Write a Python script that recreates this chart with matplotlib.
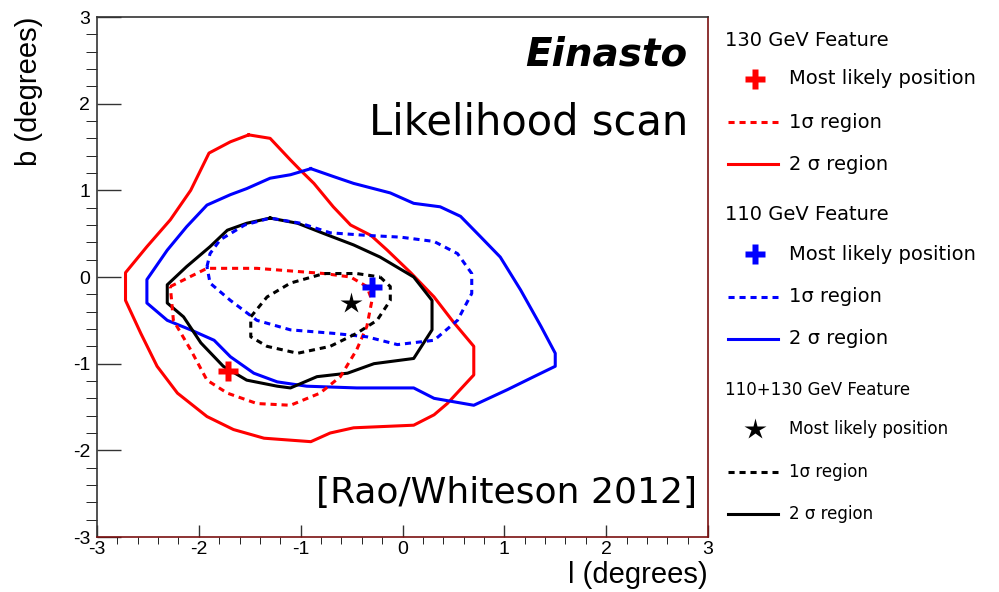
import matplotlib

matplotlib.use('Agg')
import matplotlib.pyplot as plt
from matplotlib.ticker import MultipleLocator

plt.rcParams['font.family'] = ['DejaVu Sans']
plt.rcParams['axes.unicode_minus'] = False

# 130 GeV feature contours (l, b in degrees)
red2_l = [-1.51, -1.30, -1.10, -1.00, -0.87, -0.68, -0.51, -0.31, -0.15, 0.08, 0.31, 0.50, 0.70, 0.70,
          0.44, 0.31, 0.11, -0.48, -0.71, -0.90, -1.36, -1.66, -1.92, -2.21, -2.41, -2.57, -2.72, -2.72,
          -2.51, -2.28, -2.08, -1.90, -1.69, -1.51]
red2_b = [1.64, 1.60, 1.35, 1.23, 1.08, 0.81, 0.60, 0.48, 0.31, 0.05, -0.23, -0.52, -0.80, -1.13,
          -1.46, -1.59, -1.71, -1.74, -1.80, -1.90, -1.86, -1.76, -1.61, -1.34, -1.03, -0.65, -0.27, 0.05,
          0.35, 0.66, 1.00, 1.43, 1.56, 1.64]
red1_l = [-2.28, -1.92, -1.43, -0.77, -0.51, -0.35, -0.30, -0.35, -0.45, -0.61, -0.81, -1.10, -1.43,
          -1.72, -1.92, -2.08, -2.25, -2.28]
red1_b = [-0.11, 0.10, 0.10, 0.04, 0.00, -0.11, -0.27, -0.57, -0.84, -1.15, -1.34, -1.48, -1.46,
          -1.34, -1.19, -0.84, -0.50, -0.11]
red_best = (-1.71, -1.09)

# 110 GeV feature contours
blue2_l = [-0.90, -0.68, -0.48, -0.12, 0.11, 0.37, 0.57, 0.77, 0.96, 1.16, 1.36, 1.50, 1.50, 1.29,
           1.03, 0.70, 0.31, 0.11, -0.45, -0.94, -1.23, -1.46, -1.69, -1.85, -2.08, -2.31, -2.51, -2.51,
           -2.31, -2.12, -1.92, -1.69, -1.53, -1.30, -1.10, -0.90]
blue2_b = [1.25, 1.16, 1.08, 0.97, 0.85, 0.81, 0.70, 0.46, 0.23, -0.15, -0.57, -0.88, -1.03, -1.15,
           -1.30, -1.48, -1.40, -1.28, -1.28, -1.26, -1.21, -1.11, -0.92, -0.73, -0.61, -0.50, -0.30, -0.03,
           0.31, 0.58, 0.83, 0.95, 1.02, 1.14, 1.18, 1.25]
blue1_l = [-1.92, -1.89, -1.79, -1.55, -1.30, -1.00, -0.71, -0.35, -0.02, 0.31, 0.54, 0.68, 0.68, 0.54,
           0.31, -0.05, -0.35, -0.68, -1.10, -1.43, -1.69, -1.89, -1.92]
blue1_b = [0.12, 0.27, 0.43, 0.60, 0.68, 0.62, 0.51, 0.48, 0.46, 0.41, 0.27, 0.04, -0.19, -0.50,
           -0.73, -0.78, -0.69, -0.65, -0.61, -0.50, -0.27, -0.07, 0.12]
blue_best = (-0.30, -0.11)

# combined 110+130 GeV contours
black2_l = [-1.30, -1.03, -0.77, -0.48, -0.22, 0.11, 0.29, 0.29, 0.11, -0.28, -0.54, -0.84, -1.10,
            -1.23, -1.53, -1.76, -1.98, -2.15, -2.31, -2.31, -2.12, -1.89, -1.72, -1.53, -1.30]
black2_b = [0.68, 0.62, 0.50, 0.37, 0.23, 0.00, -0.27, -0.61, -0.94, -1.00, -1.11, -1.15, -1.28,
            -1.26, -1.19, -1.03, -0.76, -0.46, -0.30, -0.09, 0.12, 0.35, 0.54, 0.62, 0.68]
black1_l = [-0.22, -0.12, -0.12, -0.25, -0.45, -0.71, -1.03, -1.33, -1.49, -1.49, -1.33, -1.10, -0.77,
            -0.45, -0.22]
black1_b = [0.00, -0.11, -0.27, -0.50, -0.65, -0.80, -0.88, -0.80, -0.69, -0.46, -0.23, -0.07, 0.04,
            0.04, 0.00]
black_best = (-0.51, -0.30)

RED = '#ff0000'
BLUE = '#0000ff'
BLACK = '#000000'
DOT = (0, (2.0, 1.6))
LW = 2.2
ARIAL = 'Liberation Sans'

fig = plt.figure(figsize=(9.99, 5.92), dpi=100)
ax = fig.add_axes([97 / 999, 1 - 537 / 592, 611 / 999, 520 / 592])

ax.plot(red2_l, red2_b, c=RED, lw=LW)
ax.plot(blue2_l, blue2_b, c=BLUE, lw=LW)
ax.plot(black2_l, black2_b, c=BLACK, lw=LW)
ax.plot(red1_l, red1_b, c=RED, lw=LW, ls=DOT)
ax.plot(blue1_l, blue1_b, c=BLUE, lw=LW, ls=DOT)
ax.plot(black1_l, black1_b, c=BLACK, lw=LW, ls=DOT)
ax.plot(*red_best, marker='P', ms=15, c=RED, mec='none')
ax.plot(*blue_best, marker='P', ms=15, c=BLUE, mec='none')
ax.plot(*black_best, marker='*', ms=16, c=BLACK, mec='none')

ax.set_xlim(-3, 3)
ax.set_ylim(-3, 3)
ax.xaxis.set_major_locator(MultipleLocator(1))
ax.yaxis.set_major_locator(MultipleLocator(1))
ax.xaxis.set_minor_locator(MultipleLocator(0.2))
ax.yaxis.set_minor_locator(MultipleLocator(0.2))
ax.tick_params(axis='both', direction='in', labelsize=14, color='#333333', width=1.0)
ax.tick_params(axis='x', which='major', length=9, pad=3)
ax.tick_params(axis='x', which='minor', length=5)
ax.tick_params(axis='y', which='major', length=17, pad=5)
ax.tick_params(axis='y', which='minor', length=8)
for lab in ax.get_xticklabels() + ax.get_yticklabels():
    lab.set_family(ARIAL)
for side in ['left', 'top']:
    ax.spines[side].set_color('#333333')
for side in ['bottom', 'right']:
    ax.spines[side].set_color('#7a1010')
for sp in ax.spines.values():
    sp.set_linewidth(1.2)

ax.set_xlabel('l (degrees)', fontsize=21, loc='right', family=ARIAL)
ax.xaxis.set_label_coords(1.0, -0.046)
ax.set_ylabel('b (degrees)', fontsize=21, loc='top', family=ARIAL)
ax.yaxis.set_label_coords(-0.088, 1.0)

ax.text(0.967, 0.927, 'Einasto', transform=ax.transAxes, ha='right', va='center',
        fontsize=28, fontweight='bold', fontstyle='italic')
ax.text(0.967, 0.798, 'Likelihood scan', transform=ax.transAxes, ha='right', va='center', fontsize=30)
ax.text(0.982, 0.085, '[Rao/Whiteson 2012]', transform=ax.transAxes, ha='right', va='center', fontsize=26)

# legend panel, laid out in figure pixels
leg = fig.add_axes([0, 0, 1, 1])
leg.set_xlim(0, 999)
leg.set_ylim(592, 0)
leg.axis('off')

groups = [
    ('130 GeV Feature', RED, 'P', 14),
    ('110 GeV Feature', BLUE, 'P', 14),
    ('110+130 GeV Feature', BLACK, '*', 12),
]
for i, (title, col, mk, fs) in enumerate(groups):
    y0 = 40 + 175 * i
    leg.text(725, y0, title, fontsize=fs, va='center', ha='left')
    leg.plot([755], [y0 + 39], marker=mk, ms=15 if mk == 'P' else 16, c=col, mec='none')
    leg.text(789, y0 + 39, 'Most likely position', fontsize=fs, va='center', ha='left')
    leg.plot([728, 778], [y0 + 82, y0 + 82], c=col, lw=LW, ls=DOT)
    leg.text(789, y0 + 82, '1\u03c3 region', fontsize=fs, va='center', ha='left')
    leg.plot([728, 778], [y0 + 124, y0 + 124], c=col, lw=LW)
    leg.text(789, y0 + 124, '2 \u03c3 region', fontsize=fs, va='center', ha='left')

plt.savefig('out.png', dpi=100)
